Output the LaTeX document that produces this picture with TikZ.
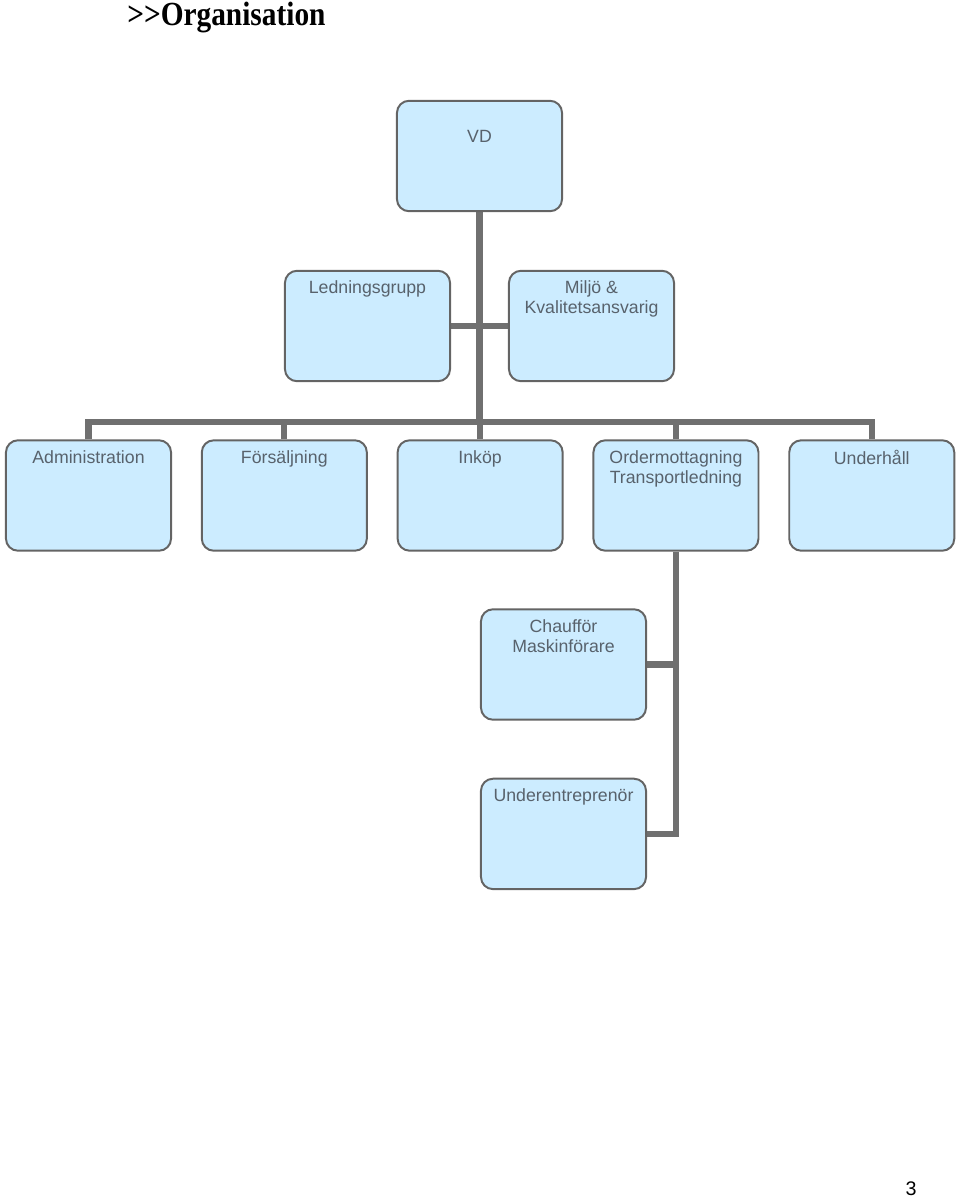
\documentclass[tikz,border=0pt]{standalone}
\usepackage{fontspec}
\setmainfont{Liberation Sans}
\newfontfamily\titlefont[FakeStretch=0.87]{Liberation Serif}
\usetikzlibrary{positioning,backgrounds}
\definecolor{boxfill}{RGB}{204,236,255}
\definecolor{boxline}{RGB}{100,100,100}
\definecolor{linkgray}{RGB}{112,112,112}
\definecolor{textgray}{RGB}{88,98,108}

\begin{document}
\begin{tikzpicture}[
  x=0.025cm, y=-0.025cm,
  every node/.style={font=\fontsize{12.6}{14.2}\selectfont, text=textgray},
  unit/.style={draw=boxline, line width=1.4pt, fill=boxfill, rounded corners=0.3cm, minimum width=4.125cm, minimum height=2.76cm, inner sep=0pt},
  head/.style={anchor=north, yshift=-#1, align=center, inner sep=0pt},
  head/.default=0.275cm,
  link/.style={draw=linkgray, line width=4.3pt}
]
\useasboundingbox (0,0) rectangle (960,1198);

\node[font=\titlefont\bfseries\fontsize{24}{26}\selectfont, text=black, anchor=base west, inner sep=0pt] (title) at (127,25.5) {>{}>Organisation};

\node[unit, label={[head=0.76cm]north:VD}] (vd) at (479.5,156) {};
\node[unit, label={[head]north:Ledningsgrupp}] (ledn) at (367.5,326) {};
\node[unit, label={[head]north:Miljö \&\\Kvalitetsansvarig}] (miljo) at (591.5,326) {};

\node[unit, label={[head]north:Administration}] (admin) at (88.5,495.5) {};
\node[unit, right=0.72cm of admin, label={[head]north:Försäljning}] (fors) {};
\node[unit, right=0.72cm of fors, label={[head]north:Inköp}] (inkop) {};
\node[unit, right=0.72cm of inkop, label={[head]north:Ordermottagning\\Transportledning}] (order) {};
\node[unit, right=0.72cm of order, label={[head]north:Underhåll}] (underh) {};

\node[unit, label={[head]north:Chaufför\\Maskinförare}] (chauf) at (563.5,664.5) {};
\node[unit, below=1.425cm of chauf, label={[head]north:Underentreprenör}] (under) {};

\coordinate[above=0.425cm of admin.north] (bus);

\begin{scope}[on background layer]
\draw[link] (vd.south) -- (vd.south |- bus);
\draw[link] (ledn) -- (miljo);
\draw[link] (admin.north) -- (bus) -| (underh.north);
\foreach \n in {fors,inkop,order}
  \draw[link] (\n.north) -- (\n.north |- bus);
\draw[link] (order.south) |- (under.east);
\draw[link] (chauf.east) -- (chauf.east -| order.south);
\end{scope}

\node[font=\fontsize{14}{16}\selectfont, text=black, anchor=base] (pagenum) at (911,1195) {3};
\end{tikzpicture}
\end{document}
